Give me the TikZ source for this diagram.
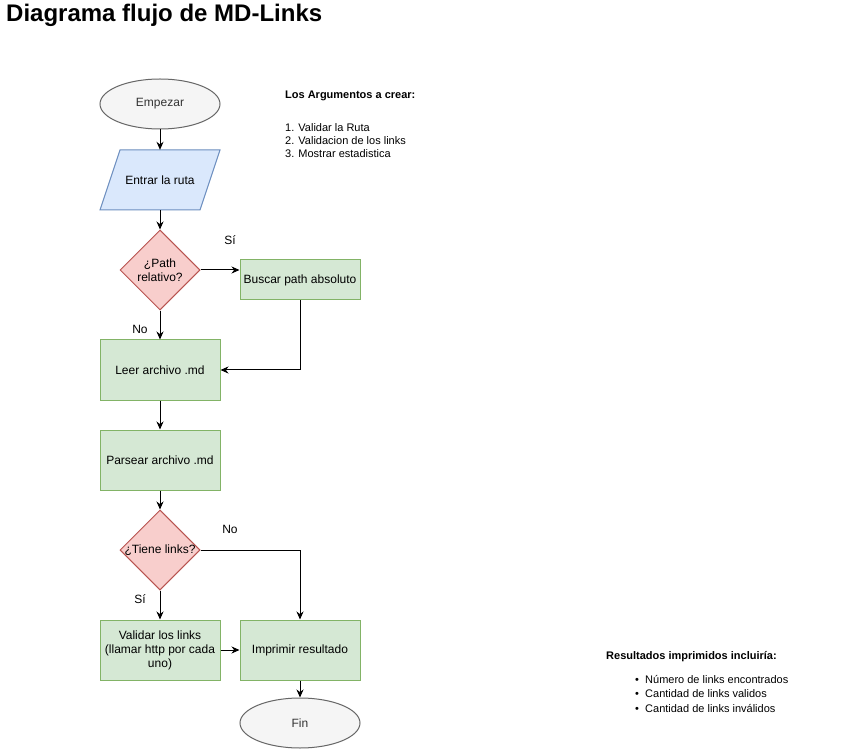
\documentclass[tikz,border=0pt]{standalone}
\usepackage{fontspec}
\setmainfont{Liberation Sans}
\usetikzlibrary{shapes.geometric,arrows.meta}
\definecolor{grisfill}{HTML}{F5F5F5}
\definecolor{grisborde}{HTML}{666666}
\definecolor{gristexto}{HTML}{333333}
\definecolor{azulfill}{HTML}{DAE8FC}
\definecolor{azulborde}{HTML}{6C8EBF}
\definecolor{rojofill}{HTML}{F8CECC}
\definecolor{rojoborde}{HTML}{B85450}
\definecolor{verdefill}{HTML}{D5E8D4}
\definecolor{verdeborde}{HTML}{82B366}

\begin{document}
\begin{tikzpicture}[x=1pt,y=-1pt,
    >={Stealth[length=8pt,width=7pt]},
    texto/.style={font=\fontsize{12}{14}\selectfont},
    chico/.style={font=\fontsize{11}{13}\selectfont,anchor=base west,inner sep=0},
    flecha/.style={->,line width=1pt},
    caja/.style={texto,rectangle,draw=verdeborde,fill=verdefill,line width=1pt,
        minimum width=120,minimum height=60,align=center},
    elipse/.style={texto,ellipse,draw=grisborde,fill=grisfill,text=gristexto,line width=1pt,
        minimum width=120,minimum height=50,inner sep=0},
    rombo/.style={diamond,draw=rojoborde,fill=rojofill,line width=1pt,
        minimum width=80,minimum height=80,inner sep=0},
    entrada/.style={texto,rectangle,minimum width=100,minimum height=60,inner sep=0}]
    \useasboundingbox[fill=white] (0,0) rectangle (841,751);

    \node[anchor=base west,inner sep=0,font=\fontsize{24}{28}\selectfont\bfseries] (titulo) at (6,22) {Diagrama flujo de MD-Links};

    \node[elipse] (empezar) at (160,104) {Empezar};
    \filldraw[draw=azulborde,fill=azulfill,line width=1pt] (120,150) -- (220,150) -- (200,210) -- (100,210) -- cycle;
    \node[entrada] (ruta) at (160,180) {Entrar la ruta};
    \node[rombo,label={[texto,align=center]center:¿Path\\relativo?}] (pathrel) at (160,270) {};
    \node[caja,minimum height=40] (buscar) at (300,280) {Buscar path absoluto};
    \node[caja] (leer) at (160,370) {Leer archivo .md};
    \node[caja] (parsear) at (160,460) {Parsear archivo .md};
    \node[rombo,label={[texto]center:¿Tiene links?}] (tienelinks) at (160,550) {};
    \node[caja] (validar) at (160,650) {Validar los links\\(llamar http por cada\\uno)};
    \node[caja] (imprimir) at (300,650) {Imprimir resultado};
    \node[elipse] (fin) at (300,723) {Fin};

    \draw[flecha] (empezar) -- (ruta);
    \draw[flecha] (ruta) -- (pathrel);
    \draw[flecha] (pathrel.east) -- (pathrel.east -| buscar.west);
    \draw[flecha] (pathrel) -- (leer);
    \draw[flecha] (buscar.south) |- (leer.east);
    \draw[flecha] (leer) -- (parsear);
    \draw[flecha] (parsear) -- (tienelinks);
    \draw[flecha] (tienelinks.east) -| (imprimir.north);
    \draw[flecha] (tienelinks) -- (validar);
    \draw[flecha] (validar) -- (imprimir);
    \draw[flecha] (imprimir) -- (fin);

    \node[texto] (si1) at (230,240) {Sí};
    \node[texto] (no1) at (140,329) {No};
    \node[texto] (no2) at (230,529) {No};
    \node[texto] (si2) at (140,599) {Sí};

    \node[chico,font=\fontsize{11}{13}\selectfont\bfseries] (argumentos) at (285,99) {Los Argumentos a crear:};
    \foreach \y/\t in {132/1. Validar la Ruta,145/2. Validacion de los links,158/3. Mostrar estadistica}
        \node[chico] (arg\y) at (285,\y) {\t};

    \node[chico,font=\fontsize{11}{13}\selectfont\bfseries] (resultados) at (606,659) {Resultados imprimidos incluiría:};
    \foreach \y/\t in {683/Número de links encontrados,697/Cantidad de links validos,712/Cantidad de links inválidos} {
        \node[chico] (pto\y) at (635,\y) {\textbullet};
        \node[chico] (res\y) at (645,\y) {\t};
    }
\end{tikzpicture}
\end{document}
